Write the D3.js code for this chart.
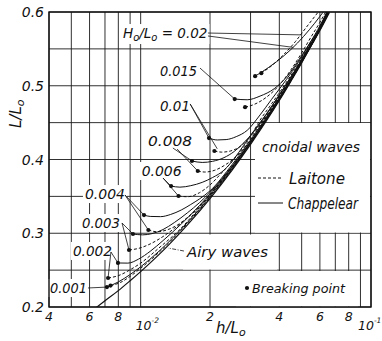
<!DOCTYPE html>
<html>
<head>
<meta charset="utf-8">
<script src="https://cdn.jsdelivr.net/npm/d3@7/dist/d3.min.js"></script>
<style>
  body { margin: 0; background: #fff; }
  text { font-family: "DejaVu Sans", sans-serif; font-style: italic; fill: #111; }
</style>
</head>
<body>
<div id="chart"></div>
<script>
// ---- data (h/Lo, L/Lo) ----
const airy = [[0.0064,0.199],[0.007,0.2085],[0.008,0.2222],[0.009,0.2356],[0.01,0.248],[0.012,0.271],[0.0134,0.286],[0.016,0.3117],[0.02,0.347],[0.025,0.386],[0.03,0.4205],[0.035,0.4515],[0.04,0.48],[0.045,0.5066],[0.05,0.531],[0.055,0.5543],[0.06,0.575],[0.066,0.5995]];

const chap020 = [[0.0314,0.513],[0.036,0.525],[0.042,0.541],[0.048,0.558],[0.054,0.576],[0.06,0.594],[0.062,0.6]];
const lait020 = [[0.0334,0.517],[0.037,0.527],[0.042,0.543],[0.047,0.56],[0.052,0.578],[0.057,0.594],[0.059,0.6]];
const chap015 = [[0.0256,0.482],[0.029,0.481],[0.033,0.486],[0.038,0.496],[0.043,0.512],[0.05,0.541],[0.057,0.569],[0.0645,0.6]];
const lait015 = [[0.0284,0.471],[0.031,0.4745],[0.035,0.484],[0.04,0.501],[0.045,0.522],[0.05,0.5445],[0.055,0.5665],[0.06,0.586],[0.0635,0.6]];
const chap010 = [[0.0198,0.429],[0.0215,0.4265],[0.0235,0.427],[0.026,0.431],[0.029,0.4395],[0.033,0.4605],[0.037,0.4815],[0.041,0.5],[0.045,0.5175],[0.05,0.539],[0.055,0.5605],[0.06,0.5795],[0.0643,0.6]];
const lait010 = [[0.0209,0.4115],[0.0225,0.41],[0.0245,0.4115],[0.027,0.4175],[0.03,0.432],[0.033,0.4535],[0.037,0.4755],[0.041,0.4955],[0.045,0.5145],[0.05,0.537],[0.055,0.5588],[0.06,0.5785],[0.0645,0.6]];
const chap008 = [[0.0167,0.398],[0.0185,0.396],[0.0205,0.3975],[0.023,0.4025],[0.0255,0.411],[0.028,0.4225],[0.031,0.438],[0.034,0.4545],[0.037,0.4715],[0.04,0.4875],[0.045,0.5125],[0.05,0.5355],[0.055,0.5578],[0.06,0.578],[0.0646,0.6]];
const lait008 = [[0.0177,0.3844],[0.019,0.383],[0.021,0.3855],[0.0235,0.3935],[0.026,0.404],[0.029,0.4205],[0.032,0.4395],[0.035,0.4575],[0.04,0.4855],[0.045,0.5115],[0.05,0.535],[0.055,0.5574],[0.06,0.5778],[0.0647,0.6]];
const chap006 = [[0.01355,0.364],[0.0148,0.3625],[0.0165,0.3645],[0.0185,0.369],[0.0205,0.3755],[0.023,0.3855],[0.0255,0.4015],[0.028,0.419],[0.03,0.4325],[0.035,0.461],[0.04,0.4875],[0.045,0.512],[0.05,0.5348],[0.055,0.557],[0.06,0.5778],[0.0648,0.6]];
const lait006 = [[0.0146,0.3505],[0.016,0.3495],[0.018,0.355],[0.02,0.3655],[0.0225,0.382],[0.025,0.3975],[0.03,0.4295],[0.035,0.4585],[0.04,0.4855],[0.05,0.5342],[0.06,0.5775],[0.0649,0.6]];
const chap004 = [[0.01034,0.3247],[0.011,0.3228],[0.0122,0.3225],[0.0135,0.3255],[0.015,0.3315],[0.0165,0.339],[0.018,0.3465],[0.02,0.3575],[0.025,0.3935],[0.03,0.4265],[0.035,0.4565],[0.04,0.4838],[0.05,0.5338],[0.06,0.5772],[0.0652,0.6]];
const lait004 = [[0.0108,0.3044],[0.0118,0.302],[0.013,0.3045],[0.0145,0.3115],[0.016,0.3215],[0.018,0.3355],[0.02,0.3515],[0.025,0.3895],[0.03,0.4235],[0.035,0.4545],[0.04,0.4825],[0.05,0.5328],[0.06,0.5765],[0.0655,0.6]];
const chap003 = [[0.00926,0.299],[0.0102,0.2978],[0.0112,0.2995],[0.0125,0.305],[0.014,0.3145],[0.016,0.328],[0.018,0.3415],[0.02,0.3555],[0.025,0.3915],[0.03,0.4245],[0.04,0.4828],[0.05,0.5332],[0.06,0.5768],[0.0654,0.6]];
const lait003 = [[0.0089,0.2773],[0.0098,0.2795],[0.011,0.2855],[0.0125,0.2955],[0.014,0.3065],[0.016,0.3215],[0.018,0.3365],[0.02,0.3525],[0.025,0.3905],[0.03,0.4235],[0.04,0.482],[0.05,0.5325],[0.06,0.5765],[0.0655,0.6]];
const chap002 = [[0.00797,0.2597],[0.0088,0.2595],[0.0098,0.265],[0.011,0.2755],[0.0125,0.29],[0.015,0.3125],[0.018,0.3375],[0.022,0.3685],[0.03,0.4238],[0.04,0.4822],[0.05,0.5325],[0.06,0.5765],[0.0655,0.6]];
const lait002 = [[0.00722,0.2393],[0.008,0.2425],[0.009,0.2505],[0.01,0.2595],[0.012,0.28],[0.015,0.307],[0.018,0.335],[0.022,0.3668],[0.03,0.4228],[0.04,0.4813],[0.05,0.5318],[0.06,0.576],[0.0656,0.6]];
const chap001 = [[0.00714,0.227],[0.008,0.234],[0.009,0.244],[0.01,0.2545],[0.012,0.2755],[0.016,0.315],[0.02,0.3495],[0.03,0.4225],[0.04,0.4815],[0.05,0.532],[0.06,0.576],[0.0658,0.6]];
const lait001 = [[0.0074,0.229],[0.0082,0.2335],[0.009,0.2415],[0.01,0.2525],[0.012,0.274],[0.016,0.3138],[0.02,0.3485],[0.03,0.4215],[0.04,0.4807],[0.05,0.5315],[0.06,0.5755],[0.0657,0.6]];

const waveSteep = ['0.015','0.01','0.008','0.006','0.004','0.003','0.002','0.001'];
const xTickVals = [0.004,0.006,0.008,0.01,0.02,0.04,0.06,0.08,0.1];
const xTickText = ['4','6','8','10','2','4','6','8','10'];
const xTickSup = ['','','','-2','','','','','-1'];
const yTickVals = [0.2,0.3,0.4,0.5,0.6];

// annotation anchors in data space
const labelAt = [[0.01213,0.5132],[0.01213,0.4658],[0.01076,0.4183],[0.0101,0.3776],[0.00573,0.3464],[0.00556,0.3071],[0.00508,0.2692],[0.00404,0.219]];
const labelLen = [37,30,44,40,40,38,39,37];
const leaders = [
  [[0.0196,0.5715],[0.0496,0.569]], [[0.0196,0.5675],[0.046,0.552]],
  [[0.0181,0.524],[0.0256,0.482]],
  [[0.0164,0.4753],[0.0198,0.429]], [[0.0164,0.4753],[0.0215,0.4145]],
  [[0.0138,0.4156],[0.0167,0.398]], [[0.0144,0.4142],[0.0177,0.3844]],
  [[0.0125,0.3749],[0.01355,0.364]], [[0.0125,0.3749],[0.0146,0.3505]],
  [[0.00855,0.3519],[0.01034,0.3247]], [[0.00855,0.3519],[0.0108,0.3044]],
  [[0.0083,0.3139],[0.00926,0.299]], [[0.0083,0.3139],[0.0089,0.2773]],
  [[0.00743,0.2746],[0.00797,0.2597]], [[0.00743,0.2746],[0.00722,0.2393]],
  [[0.00591,0.2258],[0.00714,0.227]]
];
const airyLeader = [[0.01542,0.2759],[0.01314,0.28]];

const chappelear = [chap020,chap015,chap010,chap008,chap006,chap004,chap003,chap002,chap001];
const laitone = [lait020,lait015,lait010,lait008,lait006,lait004,lait003,lait002,lait001];

// ---- drawing ----
const W = 382, H = 341;
const svg = d3.select('#chart').append('svg').attr('width', W).attr('height', H);
const x = d3.scaleLog().domain([0.004, 0.1]).range([49, 371]);
const y = d3.scaleLinear().domain([0.2, 0.6]).range([307, 12]);

svg.append('clipPath').attr('id', 'clip').append('rect')
  .attr('x', 49).attr('y', 12).attr('width', 322).attr('height', 295);

// grid
const grid = svg.append('g').attr('stroke', '#1a1a1a').attr('stroke-width', 0.9);
grid.selectAll('.v').data(x.ticks()).join('line')
  .attr('x1', d => x(d)).attr('x2', d => x(d)).attr('y1', 12).attr('y2', 307);
grid.selectAll('.h').data(y.ticks(8)).join('line')
  .attr('x1', 49).attr('x2', 371).attr('y1', d => y(d)).attr('y2', d => y(d));

// white panels that hide the grid behind texts
const boxes = svg.append('g').attr('fill', '#fff');
boxes.append('rect').attr('x', 255).attr('y', 123).attr('width', 115).attr('height', 109.5);
boxes.append('rect').attr('x', 183).attr('y', 234.5).attr('width', 94).attr('height', 35);
boxes.append('rect').attr('x', 236).attr('y', 271).attr('width', 122).attr('height', 35.5);

const line = d3.line().x(d => x(d[0])).y(d => y(d[1])).curve(d3.curveMonotoneX);
const curves = svg.append('g').attr('clip-path', 'url(#clip)').attr('fill', 'none').attr('stroke', '#111');

curves.append('path').datum(airy).attr('d', line).attr('stroke-width', 1.2);
curves.selectAll('.chap').data(chappelear).join('path').attr('class', 'chap').attr('d', line).attr('stroke-width', 1);
curves.selectAll('.lait').data(laitone).join('path').attr('class', 'lait').attr('d', line)
  .attr('stroke-width', 1).attr('stroke-dasharray', '3,2');

// leaders
svg.append('g').attr('stroke', '#111').attr('stroke-width', 0.8)
  .selectAll('line').data(leaders).join('line')
  .attr('x1', d => x(d[0][0])).attr('y1', d => y(d[0][1]))
  .attr('x2', d => x(d[1][0])).attr('y2', d => y(d[1][1]));
svg.append('line')
  .attr('x1', x(airyLeader[0][0])).attr('y1', y(airyLeader[0][1]))
  .attr('x2', x(airyLeader[1][0])).attr('y2', y(airyLeader[1][1]))
  .attr('stroke', '#111').attr('stroke-width', 0.8).attr('stroke-dasharray', '4,1.5,1,1.5');

// breaking points
const dots = chappelear.concat(laitone).map(c => c[0]);
svg.append('g').selectAll('circle').data(dots).join('circle')
  .attr('cx', d => x(d[0])).attr('cy', d => y(d[1])).attr('r', 2.1).attr('fill', '#111');

// curve labels
const labels = svg.append('g').attr('font-size', 14);
const topLabel = labels.append('text').attr('x', x(0.00838)).attr('y', y(0.5647)).attr('font-size', 13.5);
topLabel.append('tspan').text('H');
topLabel.append('tspan').text('o').attr('font-size', 10).attr('dy', 3);
topLabel.append('tspan').text('/L').attr('dy', -3);
topLabel.append('tspan').text('o').attr('font-size', 10).attr('dy', 3);
topLabel.append('tspan').text(' = 0.02').attr('dy', -3);

labels.selectAll('.lab').data(waveSteep).join('text')
  .attr('class', 'lab')
  .attr('x', (d, i) => x(labelAt[i][0])).attr('y', (d, i) => y(labelAt[i][1]))
  .attr('textLength', (d, i) => labelLen[i]).attr('lengthAdjust', 'spacingAndGlyphs')
  .text(d => d);

// boxes behind the curve labels
labels.selectAll('text').each(function () {
  const b = this.getBBox();
  boxes.append('rect').attr('x', b.x - 2).attr('y', b.y - 1).attr('width', b.width + 4).attr('height', b.height + 2);
});

// legend
const leg = svg.append('g');
leg.append('text').attr('x', 262).attr('y', 152).attr('font-size', 14)
  .attr('textLength', 98).attr('lengthAdjust', 'spacingAndGlyphs').text('cnoidal waves');
leg.append('line').attr('x1', 258).attr('x2', 282).attr('y1', 178).attr('y2', 178)
  .attr('stroke', '#111').attr('stroke-dasharray', '3,2');
leg.append('text').attr('x', 289).attr('y', 184).attr('font-size', 15.5)
  .attr('textLength', 56).attr('lengthAdjust', 'spacingAndGlyphs').text('Laitone');
leg.append('line').attr('x1', 258).attr('x2', 283).attr('y1', 203).attr('y2', 203).attr('stroke', '#111');
leg.append('text').attr('x', 288).attr('y', 209).attr('font-size', 15.5)
  .attr('textLength', 70).attr('lengthAdjust', 'spacingAndGlyphs').text('Chappelear');
leg.append('text').attr('x', 187).attr('y', 257).attr('font-size', 13.5)
  .attr('textLength', 81).attr('lengthAdjust', 'spacingAndGlyphs').text('Airy  waves');
leg.append('circle').attr('cx', 247).attr('cy', 288).attr('r', 2.1).attr('fill', '#111');
leg.append('text').attr('x', 252).attr('y', 293).attr('font-size', 12.5)
  .attr('textLength', 93).attr('lengthAdjust', 'spacingAndGlyphs').text('Breaking point');

// frame
svg.append('rect').attr('x', 49).attr('y', 12).attr('width', 322).attr('height', 295)
  .attr('fill', 'none').attr('stroke', '#111').attr('stroke-width', 1.4);

// axes labels
const xt = svg.append('g').attr('font-size', 12.5);
xTickVals.forEach((v, i) => {
  if (xTickSup[i]) {
    const t = xt.append('text').attr('x', x(v) - (v === 0.1 ? 13 : 5)).attr('y', 330);
    t.append('tspan').text(xTickText[i]).attr('font-size', 12.5);
    t.append('tspan').text(xTickSup[i]).attr('font-size', 7.5).attr('dy', -7);
  } else {
    xt.append('text').attr('x', x(v)).attr('y', 321).attr('text-anchor', 'middle').text(xTickText[i]);
  }
});
svg.append('g').attr('font-size', 14).attr('text-anchor', 'end')
  .selectAll('text').data(yTickVals).join('text')
  .attr('x', 44).attr('y', d => y(d) + 5).text(d => d.toFixed(1));

const xl = svg.append('text').attr('x', 216).attr('y', 333).attr('font-size', 15);
xl.append('tspan').text('h/L');
xl.append('tspan').text('o').attr('font-size', 11).attr('dy', 3);
const yl = svg.append('text').attr('transform', 'translate(21,128) rotate(-90)').attr('font-size', 15);
yl.append('tspan').text('L/L');
yl.append('tspan').text('o').attr('font-size', 11).attr('dy', 3);
</script>
</body>
</html>
